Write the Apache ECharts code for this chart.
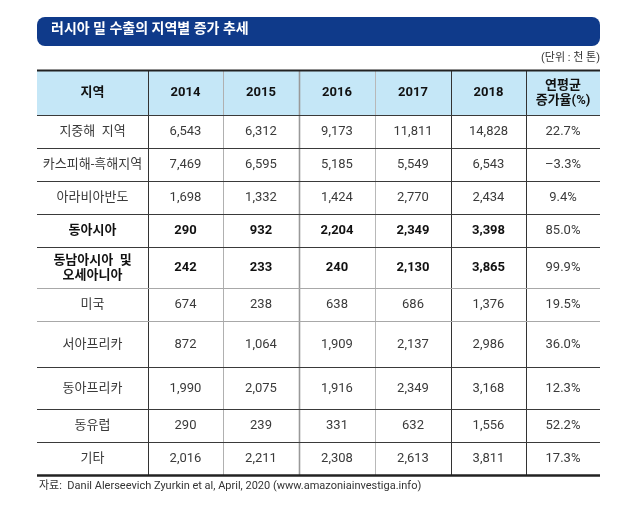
<!DOCTYPE html>
<html lang="ko">
<head>
    <meta charset="utf-8">
    <title>러시아 밀 수출의 지역별 증가 추세</title>
    <style>
        html, body {margin: 0; padding: 0; background: #fff;}
        #container {width: 635px; height: 512px;}
    </style>
</head>
<body>
<div id="container"></div>
<script src="https://cdn.jsdelivr.net/npm/echarts@6/dist/echarts.min.js"></script>
<script>
// 표 데이터 (단위: 천 톤)
var headers = ['지역', '2014', '2015', '2016', '2017', '2018', '연평균\n증가율(%)'];
var regions = ['지중해  지역', '카스피해-흑해지역', '아라비아반도', '동아시아', '동남아시아  및\n오세아니아',
               '미국', '서아프리카', '동아프리카', '동유럽', '기타'];
var y2014 = [6543, 7469, 1698, 290, 242, 674, 872, 1990, 290, 2016];
var y2015 = [6312, 6595, 1332, 932, 233, 238, 1064, 2075, 239, 2211];
var y2016 = [9173, 5185, 1424, 2204, 240, 638, 1909, 1916, 331, 2308];
var y2017 = [11811, 5549, 2770, 2349, 2130, 686, 2137, 2349, 632, 2613];
var y2018 = [14828, 6543, 2434, 3398, 3865, 1376, 2986, 3168, 1556, 3811];
var cagr  = [22.7, -3.3, 9.4, 85.0, 99.9, 19.5, 36.0, 12.3, 52.2, 17.3];
var boldRegions = ['동아시아', '동남아시아  및\n오세아니아'];

// 레이아웃 (px 단위 폭/높이)
var colWidths = [111, 75, 76, 76, 76, 75, 74];
var rowHeights = [45, 33, 33, 33, 33, 41, 33, 46, 42, 33, 33];
var vLineColor = ['#333', '#b0b0b0', '#999', '#b8b8b8', '#333', '#333'];
var vLineWidth = [1, 1, 1.6, 1, 1, 1];
var grayBottomRows = [5, 6];
var FONT = 'Roboto, "Noto Sans CJK KR", sans-serif';

function edges(sizes) {
    var out = [0];
    sizes.forEach(function (s) { out.push(out[out.length - 1] + s); });
    return out;
}
var colEdges = edges(colWidths);
var rowEdges = edges(rowHeights);

function fmtNum(v) { return v.toLocaleString('en-US'); }
function fmtPct(v) { return (v < 0 ? '–' : '') + Math.abs(v).toFixed(1) + '%'; }

var yearCols = [y2014, y2015, y2016, y2017, y2018];
var cells = [];
var texts = [];
headers.forEach(function (h, c) { cells.push([c, 0]); texts.push(h); });
regions.forEach(function (name, i) {
    var row = [name].concat(yearCols.map(function (a) { return fmtNum(a[i]); }), [fmtPct(cagr[i])]);
    row.forEach(function (t, c) { cells.push([c, i + 1]); texts.push(t); });
});

var lastRow = rowHeights.length - 1;
var lastCol = colWidths.length - 1;

function renderItem(params, api) {
    var c = api.value(0), r = api.value(1);
    var p0 = api.coord([colEdges[c], rowEdges[r]]);
    var p1 = api.coord([colEdges[c + 1], rowEdges[r + 1]]);
    var x0 = Math.round(p0[0]), y0 = Math.round(p0[1]);
    var x1 = Math.round(p1[0]), y1 = Math.round(p1[1]);
    var header = r === 0;
    var bold = header || (c < lastCol && boldRegions.indexOf(regions[r - 1]) >= 0);
    var children = [];
    if (header) {
        children.push({type: 'rect', z2: 0, shape: {x: x0, y: y0, width: x1 - x0, height: y1 - y0},
            style: {fill: '#c5e7f7'}});
    }
    children.push({type: 'text', z2: 5, style: {
        text: texts[params.dataIndex], x: (x0 + x1) / 2, y: (y0 + y1) / 2 + 0.5,
        align: 'center', verticalAlign: 'middle',
        fontFamily: FONT, fontSize: 13, lineHeight: 15,
        fontWeight: bold ? 'bold' : 'normal', fill: bold ? '#111' : '#3a3a3a'
    }});
    // 아래 선
    var bw = 1, bc = '#3a3a3a';
    if (r === lastRow) { bw = 2.6; bc = '#222'; }
    else if (grayBottomRows.indexOf(r) >= 0) { bc = '#a8a8a8'; }
    children.push({type: 'line', z2: 10, shape: {x1: x0, y1: y1 + 0.5, x2: x1, y2: y1 + 0.5},
        style: {stroke: bc, lineWidth: bw}});
    if (header) {
        children.push({type: 'line', z2: 10, shape: {x1: x0, y1: y0 + 0.5, x2: x1, y2: y0 + 0.5},
            style: {stroke: '#222', lineWidth: 2.2}});
    }
    if (c < lastCol) {
        children.push({type: 'line', z2: 8, shape: {x1: x1 + 0.5, y1: y0, x2: x1 + 0.5, y2: y1},
            style: {stroke: vLineColor[c], lineWidth: vLineWidth[c]}});
    }
    return {type: 'group', children: children};
}

var myChart = echarts.init(document.getElementById('container'));
var option = {
    animation: false,
    title: [
        {text: '러시아 밀 수출의 지역별 증가 추세', left: 51, top: 23, padding: 0,
         textStyle: {color: '#fff', fontSize: 14, fontWeight: 'bold', fontFamily: FONT}},
        {text: '(단위 : 천 톤)', right: 35, top: 53, padding: 0,
         textStyle: {color: '#333', fontSize: 11, fontWeight: 'normal', fontFamily: FONT}},
        {text: '자료:  Danil Alerseevich Zyurkin et al, April, 2020 (www.amazoniainvestiga.info)',
         left: 39, top: 481, padding: 0,
         textStyle: {color: '#333', fontSize: 11, fontWeight: 'normal', fontFamily: FONT}}
    ],
    graphic: [{
        type: 'rect', z: 0, silent: true,
        shape: {x: 37, y: 17, width: 563, height: 29, r: 8},
        style: {fill: '#0f3a8a'}
    }],
    grid: {left: 37, top: 70, width: colEdges[colEdges.length - 1], height: rowEdges[rowEdges.length - 1]},
    xAxis: {type: 'value', min: 0, max: colEdges[colEdges.length - 1], show: false},
    yAxis: {type: 'value', min: 0, max: rowEdges[rowEdges.length - 1], inverse: true, show: false},
    series: [{
        type: 'custom',
        renderItem: renderItem,
        clip: false,
        silent: true,
        data: cells
    }]
};
myChart.setOption(option);
</script>
</body>
</html>
